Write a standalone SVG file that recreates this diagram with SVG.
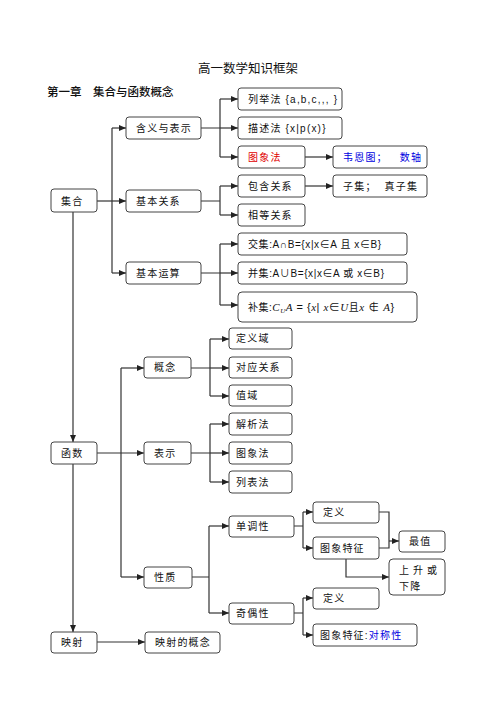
<svg xmlns="http://www.w3.org/2000/svg" width="496" height="702" viewBox="0 0 496 702">
<style>
.b{fill:#fff;stroke:#444;stroke-width:1}
.t{font-family:"Liberation Sans","Noto Sans CJK SC",sans-serif;font-size:10px;fill:#111;letter-spacing:1.2px}
.c{fill:none;stroke:#333;stroke-width:1.2}
.a{marker-end:url(#ah)}
.red{fill:#e00000}
.blue{fill:#0000e0}
.m{font-family:"Liberation Serif","Noto Sans CJK SC",serif;font-style:italic}
</style>
<defs>
<marker id="ah" markerUnits="userSpaceOnUse" markerWidth="8" markerHeight="8" refX="7" refY="4" orient="auto">
<path d="M0,1 L7,4 L0,7 Z" fill="#222"/>
</marker>
</defs>
<rect width="496" height="702" fill="#fff"/>
<text x="248" y="73" text-anchor="middle" style="font-family:'Liberation Sans','Noto Sans CJK SC',sans-serif;font-size:12.5px;fill:#111">高一数学知识框架</text>
<text x="47" y="96" style="font-family:'Liberation Sans','Noto Sans CJK SC',sans-serif;font-size:11.5px;fill:#111;font-weight:500">第一章　集合与函数概念</text>

<g id="connectors">
<path class="c" d="M112,128 V273"/>
<path class="c a" d="M112,128 H126"/>
<path class="c a" d="M97,201 H126"/>
<path class="c a" d="M112,273 H126"/>
<path class="c" d="M201,128 H220 M220,99 V157"/>
<path class="c a" d="M220,99 H238"/>
<path class="c a" d="M220,128 H238"/>
<path class="c a" d="M220,157 H238"/>
<path class="c a" d="M305,157 H333"/>
<path class="c" d="M201,201 H220 M220,186 V215"/>
<path class="c a" d="M220,186 H238"/>
<path class="c a" d="M220,215 H238"/>
<path class="c a" d="M305,186 H333"/>
<path class="c" d="M201,273 H220 M220,244 V305"/>
<path class="c a" d="M220,244 H238"/>
<path class="c a" d="M220,273 H238"/>
<path class="c a" d="M220,305 H238"/>
<path class="c a" d="M73,212 V442"/>
<path class="c a" d="M97,453 H144"/>
<path class="c" d="M121,368 V577"/>
<path class="c a" d="M121,368 H144"/>
<path class="c a" d="M121,577 H144"/>
<path class="c" d="M191,368 H210 M210,339 V396"/>
<path class="c a" d="M210,339 H229"/>
<path class="c a" d="M210,368 H229"/>
<path class="c a" d="M210,396 H229"/>
<path class="c" d="M191,453 H210 M210,424 V482"/>
<path class="c a" d="M210,424 H229"/>
<path class="c a" d="M210,453 H229"/>
<path class="c a" d="M210,482 H229"/>
<path class="c" d="M192,577 H209 M209,526 V613"/>
<path class="c a" d="M209,526 H229"/>
<path class="c a" d="M209,613 H229"/>
<path class="c" d="M294,526 H303 M303,512 V548"/>
<path class="c a" d="M303,512 H313"/>
<path class="c a" d="M303,548 H313"/>
<path class="c" d="M379,512 H389 V548 H379"/>
<path class="c a" d="M389,541 H399"/>
<path class="c a" d="M346,559 V577 H389"/>
<path class="c" d="M294,613 H303 M303,598 V635"/>
<path class="c a" d="M303,598 H313"/>
<path class="c a" d="M303,635 H313"/>
<path class="c a" d="M73,464 V632"/>
<path class="c a" d="M97,642 H145"/>
</g>

<g id="n-jihe"><rect class="b" x="51" y="189" width="46" height="23" rx="3"/><text class="t" x="61" y="204.5">集合</text></g>
<g id="n-hanyi"><rect class="b" x="126" y="117" width="75" height="22" rx="3"/><text class="t" x="136" y="131.5">含义与表示</text></g>
<g id="n-jibenguanxi"><rect class="b" x="126" y="190" width="75" height="22" rx="3"/><text class="t" x="136" y="204.5">基本关系</text></g>
<g id="n-jibenyunsuan"><rect class="b" x="126" y="262" width="75" height="22" rx="3"/><text class="t" x="136" y="276.5">基本运算</text></g>
<g id="n-liejufa"><rect class="b" x="238" y="88" width="104" height="22" rx="3"/><text class="t" x="248" y="102.5">列举法 {a,b,c,,, }</text></g>
<g id="n-miaoshufa"><rect class="b" x="238" y="117" width="104" height="22" rx="3"/><text class="t" x="248" y="131.5">描述法 {x|p(x)}</text></g>
<g id="n-tuxiangfa1"><rect class="b" x="238" y="146" width="67" height="22" rx="3"/><text class="t red" x="248" y="160.5">图象法</text></g>
<g id="n-weien"><rect class="b" x="333" y="146" width="94" height="22" rx="3"/><text class="t blue" x="343" y="160.5" xml:space="preserve">韦恩图；   数轴</text></g>
<g id="n-baohan"><rect class="b" x="238" y="175" width="67" height="22" rx="3"/><text class="t" x="248" y="189.5">包含关系</text></g>
<g id="n-ziji"><rect class="b" x="333" y="175" width="94" height="22" rx="3"/><text class="t" x="343" y="189.5" xml:space="preserve">子集；  真子集</text></g>
<g id="n-xiangdeng"><rect class="b" x="238" y="204" width="67" height="22" rx="3"/><text class="t" x="248" y="218.5">相等关系</text></g>
<g id="n-jiaoji"><rect class="b" x="238" y="233" width="169" height="22" rx="3"/><text class="t" x="248" y="247.5" style="letter-spacing:0.6px">交集:A∩B={x|x∈A 且 x∈B}</text></g>
<g id="n-bingji"><rect class="b" x="238" y="262" width="169" height="22" rx="3"/><text class="t" x="248" y="276.5" style="letter-spacing:0.6px">并集:A∪B={x|x∈A 或 x∈B}</text></g>
<g id="n-buji"><rect class="b" x="238" y="292" width="179" height="30" rx="4"/><text class="t" x="248" y="310.5" style="letter-spacing:0.5px">补集:<tspan class="m" font-size="11">C</tspan><tspan class="m" font-size="7" dy="2">U</tspan><tspan class="m" font-size="11" dy="-2">A</tspan><tspan font-size="11"> = {</tspan><tspan class="m" font-size="11">x</tspan><tspan font-size="11">| </tspan><tspan class="m" font-size="11">x</tspan><tspan font-size="11">∈</tspan><tspan class="m" font-size="11">U</tspan>且<tspan class="m" font-size="11">x</tspan><tspan font-size="11"> ∉ </tspan><tspan class="m" font-size="11">A</tspan><tspan font-size="11">}</tspan></text></g>

<g id="n-hanshu"><rect class="b" x="51" y="442" width="46" height="22" rx="3"/><text class="t" x="61" y="456.5">函数</text></g>
<g id="n-gainian"><rect class="b" x="144" y="357" width="47" height="21" rx="3"/><text class="t" x="154" y="371">概念</text></g>
<g id="n-biaoshi"><rect class="b" x="144" y="442" width="47" height="22" rx="3"/><text class="t" x="154" y="456.5">表示</text></g>
<g id="n-xingzhi"><rect class="b" x="144" y="567" width="48" height="21" rx="3"/><text class="t" x="154" y="581">性质</text></g>
<g id="n-dingyiyu"><rect class="b" x="229" y="328" width="63" height="21" rx="3"/><text class="t" x="236" y="342">定义域</text></g>
<g id="n-duiying"><rect class="b" x="229" y="357" width="63" height="21" rx="3"/><text class="t" x="236" y="371">对应关系</text></g>
<g id="n-zhiyu"><rect class="b" x="229" y="385" width="63" height="21" rx="3"/><text class="t" x="236" y="399">值域</text></g>
<g id="n-jiexifa"><rect class="b" x="229" y="413" width="63" height="22" rx="3"/><text class="t" x="236" y="427.5">解析法</text></g>
<g id="n-tuxiangfa2"><rect class="b" x="229" y="442" width="63" height="22" rx="3"/><text class="t" x="236" y="456.5">图象法</text></g>
<g id="n-liebiaofa"><rect class="b" x="229" y="471" width="63" height="22" rx="3"/><text class="t" x="236" y="485.5">列表法</text></g>
<g id="n-dandiao"><rect class="b" x="229" y="516" width="65" height="21" rx="3"/><text class="t" x="236" y="530">单调性</text></g>
<g id="n-jiou"><rect class="b" x="229" y="603" width="65" height="21" rx="3"/><text class="t" x="236" y="617">奇偶性</text></g>
<g id="n-dingyi1"><rect class="b" x="313" y="502" width="66" height="21" rx="3"/><text class="t" x="323" y="516">定义</text></g>
<g id="n-tuxiangtezheng1"><rect class="b" x="313" y="537" width="66" height="22" rx="3"/><text class="t" x="320" y="551.5">图象特征</text></g>
<g id="n-zuizhi"><rect class="b" x="399" y="531" width="46" height="21" rx="3"/><text class="t" x="409" y="545">最值</text></g>
<g id="n-shangsheng"><rect class="b" x="389" y="559" width="56" height="36" rx="4"/><text class="t" x="399" y="574" style="letter-spacing:4px">上升或</text><text class="t" x="399" y="590">下降</text></g>
<g id="n-dingyi2"><rect class="b" x="313" y="588" width="66" height="21" rx="3"/><text class="t" x="323" y="602">定义</text></g>
<g id="n-tuxiangtezheng2"><rect class="b" x="313" y="624" width="104" height="22" rx="3"/><text class="t" x="320" y="638.5">图象特征:<tspan class="blue">对称性</tspan></text></g>
<g id="n-yingshe"><rect class="b" x="51" y="632" width="46" height="21" rx="3"/><text class="t" x="61" y="646">映射</text></g>
<g id="n-yingshegainian"><rect class="b" x="145" y="632" width="75" height="21" rx="3"/><text class="t" x="155" y="646">映射的概念</text></g>
</svg>
